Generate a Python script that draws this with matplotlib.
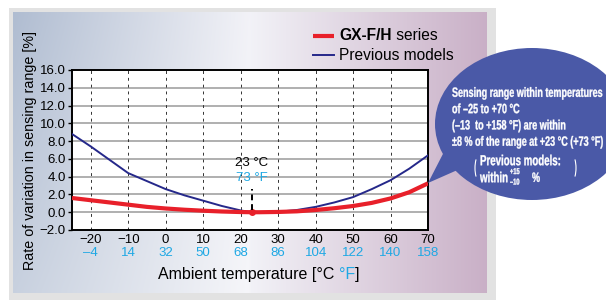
import numpy as np
import matplotlib.pyplot as plt
from matplotlib.patches import Ellipse, Polygon, Rectangle, Arc, PathPatch
from matplotlib.textpath import TextPath
from matplotlib.font_manager import FontProperties
from matplotlib.transforms import Affine2D

plt.rcParams['font.family'] = ['Liberation Sans', 'DejaVu Sans']

# --- data ---
temp_c = [-25, -20, -15, -10, -5, 0, 5, 10, 15, 20, 23, 25, 30, 35, 40, 45, 50, 55, 60, 65, 70]
gx_series = [1.6, 1.35, 1.1, 0.85, 0.6, 0.42, 0.28, 0.17, 0.08, 0.02, 0.0, 0.0, 0.03, 0.1,
             0.25, 0.45, 0.7, 1.05, 1.55, 2.25, 3.25]
prev_models = [8.8, 7.4, 5.9, 4.4, 3.5, 2.6, 1.9, 1.3, 0.7, 0.2, 0.0, 0.0, 0.05, 0.25,
               0.6, 1.1, 1.7, 2.6, 3.6, 4.9, 6.4]

xticks_c = [-20, -10, 0, 10, 20, 30, 40, 50, 60, 70]
xlabels_c = ['\u221220', '\u221210', '0', '10', '20', '30', '40', '50', '60', '70']
xlabels_f = ['\u20134', '14', '32', '50', '68', '86', '104', '122', '140', '158']
yticks = [-2, 0, 2, 4, 6, 8, 10, 12, 14, 16]

ref_c, ref_f = 23, 73

RED = '#e8202a'
NAVY = '#25288a'
CYAN = '#1ea8e4'
BUBBLE = '#4a59a7'

W, H = 606, 300
fig = plt.figure(figsize=(W / 100, H / 100), dpi=100)

# --- background panel (pixel coords) ---
bg = fig.add_axes([0, 0, 1, 1], zorder=0)
bg.axis('off')
bg.add_patch(Rectangle((9, 8), 487, 295, color='#e2e2e2', lw=0, zorder=0))
nx, ny = 200, 60
u = np.linspace(0, 1, nx)[None, :, None]
v = np.linspace(0, 1, ny)[:, None, None]
blue_c = np.array([0.69, 0.74, 0.82])
white_c = np.array([0.95, 0.95, 0.97])
pink_c = np.array([0.79, 0.69, 0.78])
left = np.clip(u / 0.5, 0, 1)
right = np.clip((u - 0.5) / 0.5, 0, 1)
img = np.where(u < 0.5, blue_c + (white_c - blue_c) * left, white_c + (pink_c - white_c) * right)
img = img + (1 - img) * 0.3 * v * (u < 0.5)
bg.imshow(np.clip(img, 0, 1), extent=(13, 487, 293, 12), aspect='auto',
          interpolation='bilinear', zorder=1)
bg.set_xlim(0, W); bg.set_ylim(H, 0)

# --- main plot ---
ax = fig.add_axes([72 / W, 1 - 230 / H, (428 - 72) / W, (230 - 70) / H], zorder=1)
ax.set_facecolor('white')
ax.set_xlim(-25, 70)
ax.set_ylim(-2, 16)
ax.set_yticks(yticks)
ax.set_yticklabels([f'{t:.1f}'.replace('-', '\u2212') for t in yticks], fontsize=9.5)
ax.set_xticks(xticks_c)
ax.set_xticklabels(xlabels_c, fontsize=9.5)
ax.tick_params(axis='x', length=0, pad=3)
ax.tick_params(axis='y', length=3, width=1, pad=1.5)
for s in ax.spines.values():
    s.set_linewidth(1.4)

for yv in yticks[1:-1]:
    ax.axhline(yv, color='#9a9a9a', lw=1.1, zorder=1)
for xv in xticks_c[:-1]:
    ax.axvline(xv, color='#333333', lw=0.7, ls=(0, (3, 4)), zorder=1)

ax.plot(temp_c, prev_models, color=NAVY, lw=1.4, zorder=3)
ax.plot(temp_c, gx_series, color=RED, lw=3, zorder=4, solid_capstyle='butt')
ax.plot([ref_c], [0], 'o', color=RED, ms=4, zorder=5)
ax.plot([ref_c, ref_c], [0.3, 2.6], color='black', lw=1.4, ls=(0, (3, 2)), zorder=5)
ax.text(ref_c, 5.5, f'{ref_c} \u00b0C', ha='center', va='center', fontsize=9.5, zorder=5)
ax.text(ref_c, 3.85, f'{ref_f} \u00b0F', ha='center', va='center', fontsize=9.5, color=CYAN, zorder=5)

trans = ax.get_xaxis_transform()
for xv, lab in zip(xticks_c, xlabels_f):
    ax.text(xv, -0.145, lab, transform=trans, ha='center', va='center', fontsize=9.5, color=CYAN)

ax.set_ylabel('Rate of variation in sensing range [%]', fontsize=10.3)
ax.yaxis.set_label_coords((37 - 72) / 356, 0.5)

xl = ax.text((158 - 72) / 356, -0.28, 'Ambient temperature [\u00b0C ', transform=ax.transAxes,
             ha='left', va='center', fontsize=11.5)
xl2 = ax.annotate('\u00b0F', xy=(1, 0), xycoords=xl, va='bottom', ha='left', fontsize=11.5, color=CYAN)
ax.annotate(']', xy=(1, 0), xycoords=xl2, va='bottom', ha='left', fontsize=11.5)

# --- overlay: legend and bubble ---
ov = fig.add_axes([0, 0, 1, 1], zorder=2)
ov.set_xlim(0, W); ov.set_ylim(H, 0); ov.axis('off')
ov.patch.set_alpha(0)

ov.plot([313, 334], [36, 36], color=RED, lw=3, solid_capstyle='butt')
ov.plot([313, 334], [55, 55], color=NAVY, lw=1.4)
lg = ov.text(339, 36, 'GX-F/H', fontsize=11.2, fontweight='bold', va='center', ha='left')
ov.annotate(' series', xy=(1, 0), xycoords=lg, va='bottom', ha='left', fontsize=11.2)
ov.text(339, 55, 'Previous models', fontsize=11.2, va='center', ha='left')

ov.add_patch(Polygon([[428, 183], [446, 148], [462, 168]], closed=True, color=BUBBLE, lw=0))
ov.add_patch(Ellipse((532, 124), 194, 152, color=BUBBLE, lw=0))

# condensed white text drawn as scaled outlines (no narrow font installed)
fp = FontProperties(family='Liberation Sans', weight='bold')


def ctext(s, x, yc, size, sx):
    tp = TextPath((0, 0), s, size=size, prop=fp)
    tr = Affine2D().scale(sx, -1).translate(x, yc + 0.36 * size)
    ov.add_patch(PathPatch(tr.transform_path(tp), facecolor='white', edgecolor='white', lw=0.25))


lines = ['Sensing range within temperatures',
         'of \u201325 to +70 \u00b0C',
         '(\u201313  to +158 \u00b0F) are within',
         '\u00b18 % of the range at +23 \u00b0C (+73 \u00b0F)']
size = 13.5
sx = 150 / TextPath((0, 0), lines[0], size=size, prop=fp).get_extents().width
for i, t in enumerate(lines):
    ctext(t, 452, 92 + i * 16.3, size, sx)
ctext('Previous models:', 480, 160, 14.5, sx)
ctext('within', 480, 177, 14.5, sx)
ctext('+15', 510, 171, 8.5, sx)
ctext('\u201310', 510, 181.5, 8.5, sx)
ctext('%', 532, 177, 13.5, sx)
ov.add_patch(Arc((481, 168), 12, 30, theta1=120, theta2=240, color='white', lw=0.8))
ov.add_patch(Arc((570, 168), 12, 30, theta1=-60, theta2=60, color='white', lw=0.8))

fig.savefig('out.png', dpi=100)
